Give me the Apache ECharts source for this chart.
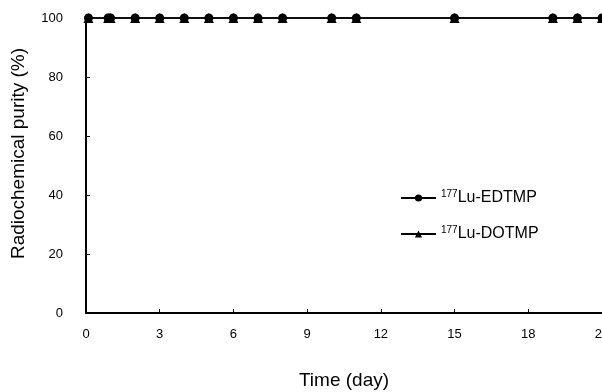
<!DOCTYPE html>
<html><head><meta charset="utf-8">
<script src="https://cdn.jsdelivr.net/npm/echarts@6/dist/echarts.min.js"></script>
<style>html,body{margin:0;padding:0;background:#fff}#c{width:602px;height:392px}</style>
</head><body><div id="c"></div>
<script>
const days = [0.1, 0.9, 1, 2, 3, 4, 5, 6, 7, 8, 10, 11, 15, 19, 20, 21];
const edtmp = [100, 100, 100, 100, 100, 100, 100, 100, 100, 100, 100, 100, 100, 100, 100, 100];
const dotmp = [100, 100, 100, 100, 100, 100, 100, 100, 100, 100, 100, 100, 100, 100, 100, 100];
const seriesNames = ['177Lu-EDTMP', '177Lu-DOTMP'];
const xTitle = 'Time (day)';
const yTitle = 'Radiochemical purity (%)';

const font = '"Liberation Sans", Arial, sans-serif';
const chart = echarts.init(document.getElementById('c'), null, {renderer: 'canvas'});
const lbl = n => '{s|177}{n|' + n.slice(3) + '}';
chart.setOption({
  animation: false,
  backgroundColor: '#fff',
  grid: {left: 86, right: 0, top: 18, bottom: 79, containLabel: false, outerBoundsMode: 'none'},
  legend: {
    orient: 'vertical', left: 395, top: 184, itemGap: 19,
    itemWidth: 35, itemHeight: 9,
    data: seriesNames,
    formatter: lbl,
    textStyle: {
      color: '#000', fontFamily: font,
      rich: {
        s: {fontSize: 10, fontFamily: font, color: '#000', verticalAlign: 'top', padding: [0, 0, 8, 0]},
        n: {fontSize: 16, fontFamily: font, color: '#000'}
      }
    }
  },
  xAxis: {
    type: 'value', min: 0, max: 21, interval: 3,
    name: xTitle, nameLocation: 'middle', nameGap: 58,
    nameTextStyle: {fontSize: 19, fontFamily: font, color: '#000'},
    axisLine: {lineStyle: {color: '#000', width: 2}},
    axisTick: {inside: true, length: 4, lineStyle: {color: '#000', width: 1}},
    axisLabel: {margin: 15, fontSize: 13, fontFamily: font, color: '#000'},
    splitLine: {show: false}
  },
  yAxis: {
    type: 'value', min: 0, max: 100, interval: 20,
    name: yTitle, nameLocation: 'middle', nameGap: 58,
    nameTextStyle: {fontSize: 19, fontFamily: font, color: '#000', padding: [0, 0, 0, 24]},
    axisLine: {show: true, lineStyle: {color: '#000', width: 2}},
    axisTick: {show: true, inside: true, length: 4, lineStyle: {color: '#000', width: 1}},
    axisLabel: {margin: 23, fontSize: 13, fontFamily: font, color: '#000'},
    splitLine: {show: false}
  },
  series: [
    {
      name: '177Lu-DOTMP', type: 'line', data: days.map((d, i) => [d, dotmp[i]]),
      symbol: 'triangle', symbolSize: 10, showSymbol: true,
      lineStyle: {color: '#000', width: 1.5}, itemStyle: {color: '#000'},
      clip: false, z: 2
    },
    {
      name: '177Lu-EDTMP', type: 'line', data: days.map((d, i) => [d, edtmp[i]]),
      symbol: 'circle', symbolSize: 9, showSymbol: true,
      lineStyle: {color: '#000', width: 1.5}, itemStyle: {color: '#000'},
      clip: false, z: 3
    }
  ]
});
</script></body></html>
